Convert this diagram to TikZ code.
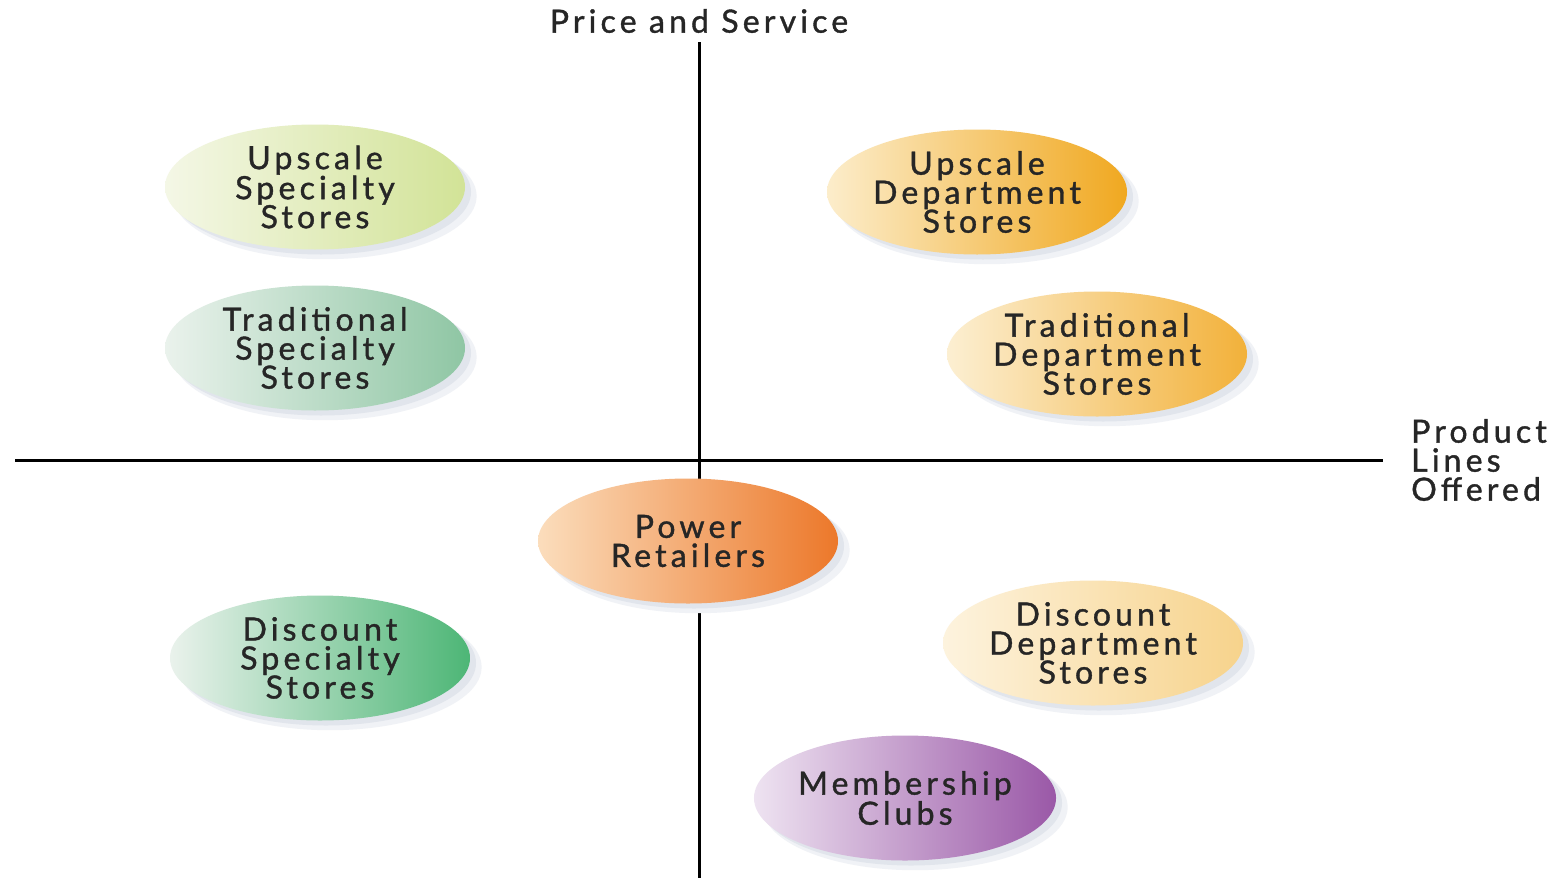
\documentclass[tikz,border=0pt]{standalone}
\usepackage{fontspec}
\setmainfont{Lato}
\newfontfamily\bubfont{Lato}[LetterSpace=13, FakeBold=1.2]
\usetikzlibrary{shapes.geometric,shadows}
\definecolor{txt}{HTML}{262626}
\definecolor{shdA}{HTML}{F0F2F6}
\definecolor{shdB}{HTML}{E1E5EC}
\definecolor{ussL}{HTML}{F4F7E6}\definecolor{ussR}{HTML}{D2E397}
\definecolor{tssL}{HTML}{EAF2EC}\definecolor{tssR}{HTML}{8FC6A4}
\definecolor{udsL}{HTML}{FCEDCB}\definecolor{udsR}{HTML}{F0A820}
\definecolor{tdsL}{HTML}{FCEFD2}\definecolor{tdsR}{HTML}{F2B13A}
\definecolor{prL}{HTML}{FBDDBC}\definecolor{prR}{HTML}{EC782A}
\definecolor{dssL}{HTML}{EAF2EC}\definecolor{dssR}{HTML}{4DB676}
\definecolor{ddsL}{HTML}{FDF3DE}\definecolor{ddsR}{HTML}{F7D38C}
\definecolor{mcL}{HTML}{EEE3F1}\definecolor{mcR}{HTML}{9A58A7}
\tikzset{
  bub/.style={ellipse, minimum width=300pt, minimum height=125pt, inner sep=0pt,
    align=center, text=txt, font=\bubfont\fontsize{32}{29}\selectfont,
    drop shadow={shadow xshift=10pt, shadow yshift=-9pt, shadow scale=1.01, fill=shdA, opacity=1},
    drop shadow={shadow xshift=6pt, shadow yshift=-5pt, fill=shdB, opacity=1}},
  axis/.style={line width=3pt, black},
  lbl/.style={text=txt, font=\bubfont\fontsize{32}{29}\selectfont, inner sep=0pt}
}
\begin{document}
\begin{tikzpicture}[x=1pt,y=-1pt]
\useasboundingbox[fill=white] (0,0) rectangle (1562,878);
\coordinate (vtop) at (699,42);
\coordinate (vbot) at (699,878);
\coordinate (hl) at (15,460);
\coordinate (hr) at (1383,460);
\draw[axis] (vtop) -- (vbot);
\draw[axis] (hl) -- (hr);
\node[lbl, anchor=center] (ps) at (699,21) {Price and Service};
\node[lbl, anchor=west, align=left] (pl) at (1411,460) {Product\\Lines\\Offered};

\node[bub, left color=ussL, right color=ussR] (uss) at (315,187) {Upscale\\Specialty\\Stores};
\node[bub, left color=tssL, right color=tssR] (tss) at (315,348) {Traditional\\Specialty\\Stores};
\node[bub, left color=udsL, right color=udsR] (uds) at (977,192) {Upscale\\Department\\Stores};
\node[bub, left color=tdsL, right color=tdsR] (tds) at (1097,354) {Traditional\\Department\\Stores};
\node[bub, left color=prL, right color=prR] (pr) at (688,541) {Power\\Retailers};
\node[bub, left color=dssL, right color=dssR] (dss) at (320,658) {Discount\\Specialty\\Stores};
\node[bub, left color=ddsL, right color=ddsR] (dds) at (1093,643) {Discount\\Department\\Stores};
\node[bub, left color=mcL, right color=mcR] (mc) at (905,798) {Membership\\Clubs};
\end{tikzpicture}
\end{document}
